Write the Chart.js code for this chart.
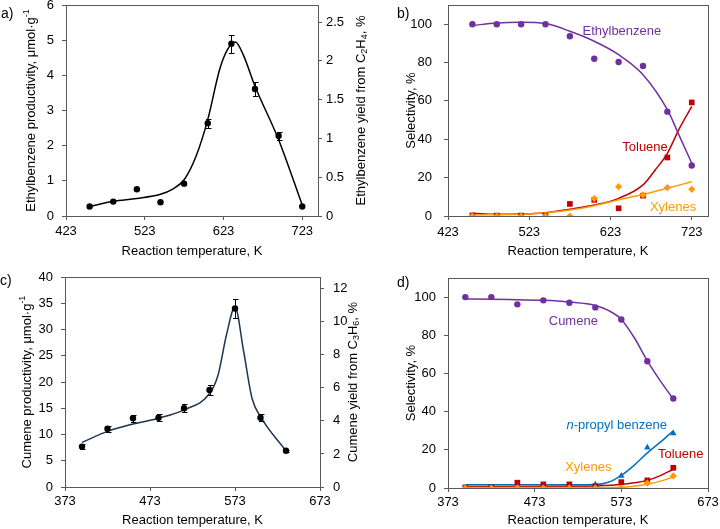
<!DOCTYPE html>
<html><head><meta charset="utf-8">
<script src="https://cdn.jsdelivr.net/npm/chart.js@4.4.0/dist/chart.umd.min.js"></script>
<style>
html,body{margin:0;padding:0;background:#fff;}
#wrap{position:relative;width:720px;height:529px;overflow:hidden;background:#fff;}
canvas{position:absolute;}
.lbl{position:absolute;font:14px "Liberation Sans",Arial,sans-serif;color:#000;line-height:16px;}
</style></head><body>
<div id="wrap">
<canvas id="ca" style="left:0;top:0;width:380px;height:265px" width="380" height="265"></canvas>
<canvas id="cb" style="left:380px;top:0;width:340px;height:265px" width="340" height="265"></canvas>
<canvas id="cc" style="left:0;top:265px;width:380px;height:264px" width="380" height="264"></canvas>
<canvas id="cd" style="left:380px;top:265px;width:340px;height:264px" width="340" height="264"></canvas>
<div class="lbl" style="left:1px;top:5px">a)</div>
<div class="lbl" style="left:397px;top:5px">b)</div>
<div class="lbl" style="left:0px;top:272px">c)</div>
<div class="lbl" style="left:397px;top:274px">d)</div>
</div>
<script>
// ---------- Panel a: ethylbenzene productivity ----------
const tempA = [453, 483, 513, 543, 573, 603, 633, 663, 693, 723];
const prodA = [0.27, 0.41, 0.76, 0.39, 0.92, 2.64, 4.90, 3.61, 2.28, 0.27];
const errA  = [0, 0, 0, 0, 0, 0.13, 0.26, 0.19, 0.11, 0];
const fitTempA = [453, 483, 513, 543, 558, 573, 588, 603, 618, 628, 638, 648, 663, 693, 723];
const fitA     = [0.27, 0.42, 0.50, 0.62, 0.76, 1.03, 1.69, 2.74, 4.16, 4.73, 4.95, 4.59, 3.69, 2.17, 0.31];
const xTicksA = [423, 523, 623, 723];
const yTicksA = [0, 1, 2, 3, 4, 5, 6];
const y2TicksA = [0, 0.5, 1, 1.5, 2, 2.5];

// ---------- Panel b: selectivity (ethylene) ----------
const tempB = [453, 483, 513, 543, 573, 603, 633, 663, 693, 723];
const ebB   = [100, 100, 100, 100, 93.7, 82.0, 80.3, 78.2, 54.4, 26.3];
const tolB  = [0.3, 0.2, 0.2, 0.2, 6.3, 8.4, 4.0, 10.6, 30.5, 59.2];
const xylB  = [0, 0, 0, 0, 0, 9.1, 15.3, 11.0, 14.8, 13.9];
const fitTempEbB = [453, 483, 513, 543, 573, 603, 633, 663, 693, 708, 723];
const fitEbB     = [99.3, 100.6, 101.0, 100.3, 96.3, 91.1, 84.1, 73.7, 55.4, 41.5, 27.5];
const fitTempTolB = [453, 483, 513, 543, 573, 603, 633, 663, 678, 693, 708, 723];
const fitTolB     = [1.4, 0.9, 1.0, 1.7, 3.5, 5.7, 9.2, 16.2, 24.0, 32.7, 45.8, 57.1];
const fitTempXylB = [453, 513, 543, 573, 603, 633, 663, 693, 723];
const fitXylB     = [0.5, 0.9, 1.7, 3.1, 5.4, 8.4, 11.3, 14.5, 17.9];
const xTicksB = [423, 523, 623, 723];
const yTicksB = [0, 20, 40, 60, 80, 100];

// ---------- Panel c: cumene productivity ----------
const tempC = [393, 423, 453, 483, 513, 543, 573, 603, 633];
const prodC = [7.7, 11.1, 13.1, 13.2, 15.0, 18.5, 34.0, 13.2, 6.9];
const errC  = [0.4, 0.55, 0.65, 0.7, 0.75, 1.0, 1.77, 0.7, 0.2];
const fitTempC = [393, 423, 453, 483, 513, 543, 553, 563, 573, 583, 593, 603, 633];
const fitC     = [8.5, 10.6, 12.0, 13.1, 14.7, 17.8, 21.3, 29.0, 34.3, 26.0, 16.9, 13.4, 6.9];
const xTicksC = [373, 473, 573, 673];
const yTicksC = [0, 5, 10, 15, 20, 25, 30, 35, 40];
const y2TicksC = [0, 2, 4, 6, 8, 10, 12];

// ---------- Panel d: selectivity (propylene) ----------
const tempD = [393, 423, 453, 483, 513, 543, 573, 603, 633];
const cumD  = [100, 100, 96.2, 98.3, 97.0, 94.6, 88.3, 66.4, 46.9];
const npbD  = [0, 0, 0, 0, 0, 1.8, 6.4, 21.2, 28.6];
const tolD  = [0.3, 0.3, 2.8, 1.9, 1.9, 0.9, 3.1, 4.0, 10.6];
const xylD  = [0, 0, 0, 0, 0, 0, 0, 2.6, 6.3];
const fitTempCumD = [393, 423, 453, 483, 513, 543, 558, 573, 588, 603, 618, 633];
const fitCumD     = [99.0, 98.9, 98.6, 98.3, 97.4, 95.6, 93.0, 88.3, 78.7, 66.6, 56.1, 46.5];
const fitTempNpbD = [393, 453, 513, 543, 558, 573, 588, 603, 618, 633];
const fitNpbD     = [1.7, 1.7, 1.7, 1.8, 3.0, 6.6, 12.0, 18.4, 24.0, 30.0];
const fitTempTolD = [393, 453, 513, 543, 573, 588, 603, 618, 633];
const fitTolD     = [0.8, 0.8, 0.9, 1.1, 1.8, 2.7, 4.0, 6.5, 9.8];
const fitTempXylD = [393, 453, 513, 543, 573, 588, 603, 618, 633];
const fitXylD     = [0.3, 0.3, 0.3, 0.3, 0.4, 1.0, 2.0, 3.6, 5.8];
const xTicksD = [373, 473, 573, 673];
const yTicksD = [0, 20, 40, 60, 80, 100];

// ---------- styling ----------
const FONT = '"Liberation Sans", Arial, Helvetica, sans-serif';
const AXIS = '#595959';
const PURPLE = '#7030A0', RED = '#C00000', ORANGE = '#FF9A00', BLUE = '#0070C0', BLACK = '#000000', NAVY = '#1F3550';
Chart.defaults.font.family = FONT;
Chart.defaults.font.size = 13;
Chart.defaults.color = '#000';

const pts = (xs, ys) => xs.map((x, i) => ({x: x, y: ys[i]}));
function pointDS(xs, ys, color, style, r, errs) {
  return {type: 'line', data: pts(xs, ys), showLine: false, pointStyle: style, pointRadius: r,
    pointBackgroundColor: color, pointBorderColor: color, pointBorderWidth: 0,
    borderColor: color, backgroundColor: color, errors: errs || null};
}
function fitDS(xs, ys, color) {
  return {type: 'line', data: pts(xs, ys), showLine: true, pointRadius: 0, borderColor: color,
    borderWidth: 1.5, cubicInterpolationMode: 'monotone', fill: false};
}
function xScale(min, max, ticks, height, pad, titlePad) {
  return {type: 'linear', position: 'bottom', min: min, max: max,
    grid: {display: true, drawOnChartArea: false, drawTicks: true, tickLength: 4, color: AXIS, tickColor: AXIS},
    border: {display: true, color: AXIS, width: 1},
    ticks: {padding: pad, color: '#000', autoSkip: false, maxRotation: 0, callback: v => String(v)},
    afterBuildTicks: s => { s.ticks = ticks.map(v => ({value: v})); },
    afterFit: s => { s.height = height; s.paddingLeft = 0; s.paddingRight = 0; },
    title: {display: true, text: 'Reaction temperature, K', color: '#000', padding: {top: 0, bottom: titlePad}, font: {size: 13}}
  };
}
function yScale(pos, min, max, ticks, width, pad) {
  return {type: 'linear', position: pos, min: min, max: max,
    grid: {display: true, drawOnChartArea: false, drawTicks: true, tickLength: 4, color: AXIS, tickColor: AXIS},
    border: {display: true, color: AXIS, width: 1},
    ticks: {padding: pad, color: '#000', autoSkip: false, callback: v => String(v)},
    afterBuildTicks: s => { s.ticks = ticks.map(v => ({value: v})); },
    afterFit: s => { s.width = width; s.paddingTop = 0; s.paddingBottom = 0; },
    title: {display: false}
  };
}

function drawRich(ctx, segs, x, y, rot, size, color) {
  ctx.save();
  ctx.translate(x, y);
  ctx.rotate(rot);
  ctx.textBaseline = 'middle';
  ctx.textAlign = 'left';
  ctx.fillStyle = color;
  let total = 0;
  const parts = segs.map(s => {
    const fs = (s.sub || s.sup) ? Math.round(size * 0.7) : size;
    const f = (s.italic ? 'italic ' : '') + fs + 'px ' + FONT;
    ctx.font = f;
    const w = ctx.measureText(s.t).width;
    total += w;
    return {t: s.t, f: f, w: w, dy: s.sub ? size * 0.28 : (s.sup ? -size * 0.35 : 0)};
  });
  let cx = -total / 2;
  parts.forEach(p => { ctx.font = p.f; ctx.fillText(p.t, cx, p.dy); cx += p.w; });
  ctx.restore();
}

const framePlugin = {id: 'frame', beforeDatasetsDraw(chart) {
  const ctx = chart.ctx, a = chart.chartArea;
  const l = Math.round(a.left), t = Math.round(a.top), r = Math.round(a.right), b = Math.round(a.bottom);
  ctx.save(); ctx.strokeStyle = AXIS; ctx.lineWidth = 1;
  ctx.strokeRect(l + 0.5, t + 0.5, r - l, b - t);
  ctx.restore();
}};
const errPlugin = {id: 'errbars', afterDatasetsDraw(chart) {
  const ctx = chart.ctx;
  chart.data.datasets.forEach((ds, i) => {
    if (!ds.errors) return;
    const meta = chart.getDatasetMeta(i);
    const ys = chart.scales[meta.yAxisID];
    ctx.save(); ctx.strokeStyle = '#000'; ctx.lineWidth = 1;
    meta.data.forEach((pt, j) => {
      const e = ds.errors[j];
      if (!e) return;
      const v = ds.data[j].y;
      const y1 = Math.round(ys.getPixelForValue(v + e)) + 0.5, y2 = Math.round(ys.getPixelForValue(v - e)) + 0.5;
      const x = Math.round(pt.x) + 0.5;
      ctx.beginPath();
      ctx.moveTo(x, y1); ctx.lineTo(x, y2);
      ctx.moveTo(x - 2.5, y1); ctx.lineTo(x + 3, y1);
      ctx.moveTo(x - 2.5, y2); ctx.lineTo(x + 3, y2);
      ctx.stroke();
    });
    ctx.restore();
  });
}};
function textPlugin(cfg) {
  return {id: 'texts', afterDraw(chart) {
    const ctx = chart.ctx, a = chart.chartArea;
    (cfg.titles || []).forEach(t => {
      const x = t.side === 'left' ? a.left + t.dx : a.right + t.dx;
      drawRich(ctx, t.segs, x, (a.top + a.bottom) / 2 + (t.dy || 0), -Math.PI / 2, 13, '#000');
    });
    (cfg.notes || []).forEach(n => {
      drawRich(ctx, n.segs, chart.scales.x.getPixelForValue(n.x), chart.scales.y.getPixelForValue(n.y), 0, 13, n.color);
    });
  }};
}
function baseOptions(pad, scales) {
  return {responsive: false, animation: false, events: [],
    layout: {padding: pad, autoPadding: false},
    plugins: {legend: {display: false}, tooltip: {enabled: false}},
    scales: scales};
}

// ---------- chart a ----------
new Chart(document.getElementById('ca'), {
  type: 'line',
  data: {datasets: [
    pointDS(tempA, prodA, BLACK, 'circle', 3.2, errA),
    fitDS(fitTempA, fitA, BLACK)
  ]},
  options: baseOptions({top: 5, left: 0, right: 0, bottom: 0}, {
    x: xScale(423, 743, xTicksA, 49, 4, 6),
    y: yScale('left', 0, 6, yTicksA, 66, 8),
    y2: yScale('right', 0, 2.72, y2TicksA, 62, 4)
  }),
  plugins: [framePlugin, errPlugin, textPlugin({
    titles: [
      {side: 'left', dx: -35, segs: [{t: 'Ethylbenzene productivity, μmol·g'}, {t: '-1', sup: true}]},
      {side: 'right', dx: 43, segs: [{t: 'Ethylbenzene yield from C'}, {t: '2', sub: true}, {t: 'H'}, {t: '4', sub: true}, {t: ', %'}]}
    ]
  })]
});

// ---------- chart b ----------
new Chart(document.getElementById('cb'), {
  type: 'line',
  data: {datasets: [
    pointDS(tempB, ebB, PURPLE, 'circle', 3.2),
    pointDS(tempB, xylB, ORANGE, 'rectRot', 3.6),
    pointDS(tempB, tolB, RED, 'rect', 4),
    fitDS(fitTempEbB, fitEbB, PURPLE),
    fitDS(fitTempXylB, fitXylB, ORANGE),
    fitDS(fitTempTolB, fitTolB, RED)
  ]},
  options: baseOptions({top: 5, left: 0, right: 12, bottom: 0}, {
    x: xScale(423, 743, xTicksB, 49, 5, 6),
    y: yScale('left', 0, 110, yTicksB, 68, 12)
  }),
  plugins: [framePlugin, textPlugin({
    titles: [{side: 'left', dx: -37, segs: [{t: 'Selectivity, %'}]}],
    notes: [
      {x: 637, y: 96.4, color: PURPLE, segs: [{t: 'Ethylbenzene'}]},
      {x: 665.5, y: 36, color: RED, segs: [{t: 'Toluene'}]},
      {x: 700, y: 4.7, color: ORANGE, segs: [{t: 'Xylenes'}]}
    ]
  })]
});

// ---------- chart c ----------
new Chart(document.getElementById('cc'), {
  type: 'line',
  data: {datasets: [
    pointDS(tempC, prodC, BLACK, 'circle', 3.2, errC),
    fitDS(fitTempC, fitC, NAVY)
  ]},
  options: baseOptions({top: 12, left: 0, right: 0, bottom: 0}, {
    x: xScale(373, 673, xTicksC, 42, 3, 1),
    y: yScale('left', 0, 40, yTicksC, 65, 8),
    y2: yScale('right', 0, 12.7, y2TicksC, 60, 9)
  }),
  plugins: [framePlugin, errPlugin, textPlugin({
    titles: [
      {side: 'left', dx: -38, segs: [{t: 'Cumene productivity, μmol·g'}, {t: '-1', sup: true}]},
      {side: 'right', dx: 33, segs: [{t: 'Cumene yield from C'}, {t: '3', sub: true}, {t: 'H'}, {t: '6', sub: true}, {t: ', %'}]}
    ]
  })]
});

// ---------- chart d ----------
new Chart(document.getElementById('cd'), {
  type: 'line',
  data: {datasets: [
    pointDS(tempD, cumD, PURPLE, 'circle', 3.2),
    pointDS(tempD, xylD, ORANGE, 'rectRot', 3.6),
    pointDS(tempD, tolD, RED, 'rect', 4),
    pointDS(tempD, npbD, BLUE, 'triangle', 3.8),
    fitDS(fitTempCumD, fitCumD, PURPLE),
    fitDS(fitTempXylD, fitXylD, ORANGE),
    fitDS(fitTempTolD, fitTolD, RED),
    fitDS(fitTempNpbD, fitNpbD, BLUE)
  ]},
  options: baseOptions({top: 13, left: 0, right: 12, bottom: 0}, {
    x: xScale(373, 673, xTicksD, 41, 3, 1),
    y: yScale('left', 0, 110, yTicksD, 68, 8)
  }),
  plugins: [framePlugin, textPlugin({
    titles: [{side: 'left', dx: -37, segs: [{t: 'Selectivity, %'}]}],
    notes: [
      {x: 517.6, y: 87, color: PURPLE, segs: [{t: 'Cumene'}]},
      {x: 567.6, y: 32.8, color: BLUE, segs: [{t: 'n', italic: true}, {t: '-propyl benzene'}]},
      {x: 641.5, y: 17.5, color: RED, segs: [{t: 'Toluene'}]},
      {x: 534.9, y: 11, color: ORANGE, segs: [{t: 'Xylenes'}]}
    ]
  })]
});
</script>
</body></html>
